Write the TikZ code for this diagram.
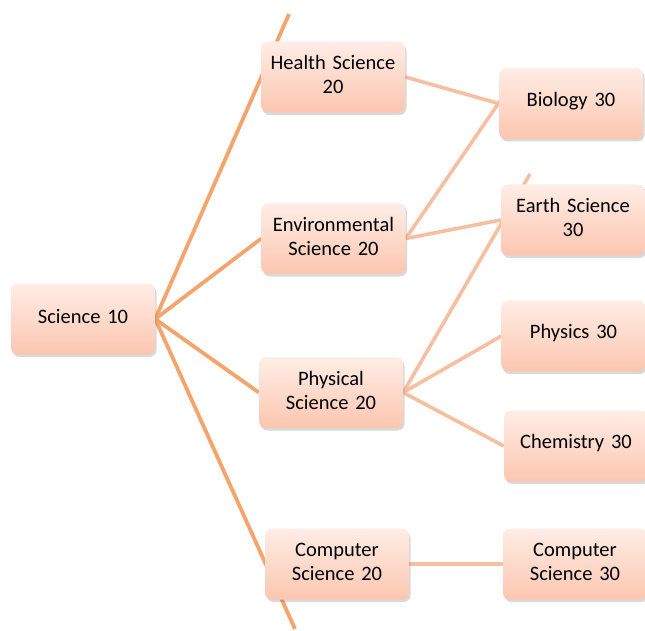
\documentclass[tikz,border=0pt]{standalone}
\usepackage{fontspec}
\setmainfont{Carlito}
\usetikzlibrary{shadows,backgrounds}
\definecolor{mainline}{RGB}{245,164,108}
\definecolor{subline}{RGB}{248,190,160}
\definecolor{boxtop}{RGB}{255,237,230}
\definecolor{boxbot}{RGB}{252,198,176}
\tikzset{
  box/.style={rounded corners=7pt, minimum width=144pt, minimum height=71pt,
    text width=140pt, align=center, inner sep=0pt,
    top color=boxtop, bottom color=boxbot, draw=none,
    drop shadow={shadow xshift=1.5pt, shadow yshift=-2.5pt, opacity=0.25, fill=black!60},
    font=\fontsize{20.5}{24}\selectfont,
    execute at end node={\par\vspace*{5pt}}},
  mainconn/.style={draw=mainline, line width=3.8pt},
  subconn/.style={draw=subline, line width=3.6pt}
}
\begin{document}
\begin{tikzpicture}[x=1pt,y=-1pt]
\useasboundingbox (0,0) rectangle (645,631);
\node[box] (sci) at (83,319) {Science 10};
\node[box] (hs) at (333,77) {Health Science\\20};
\node[box] (env) at (333.5,238.5) {Environmental\\Science 20};
\node[box] (phys) at (331,392.5) {Physical\\Science 20};
\node[box] (cs) at (337,564) {Computer\\Science 20};
\node[box] (bio) at (571,103.5) {Biology 30};
\node[box] (earth) at (573,220) {Earth Science\\30};
\node[box] (physics) at (573.5,336) {Physics 30};
\node[box] (chem) at (576,446) {Chemistry 30};
\node[box] (cs3) at (575,564) {Computer\\Science 30};
\coordinate (ttop) at (289,14);
\coordinate (tbot) at (295,629);
\coordinate (biotop) at (522,69);
\coordinate (earthtop) at (530,174);
\begin{scope}[on background layer]
\draw[mainconn] (sci.east) -- (ttop);
\draw[mainconn] (sci.east) -- (env.west);
\draw[mainconn] (sci.east) -- (phys.west);
\draw[mainconn] (sci.east) -- (tbot);
\draw[subconn] (hs.east) -- (bio.west);
\draw[subconn] (env.east) -- (biotop);
\draw[subconn] (env.east) -- (earth.west);
\draw[subconn] (phys.east) -- (earthtop);
\draw[subconn] (phys.east) -- (physics.west);
\draw[subconn] (phys.east) -- (chem.west);
\draw[subconn] (cs.east) -- (cs3.west);
\end{scope}
\end{tikzpicture}
\end{document}
